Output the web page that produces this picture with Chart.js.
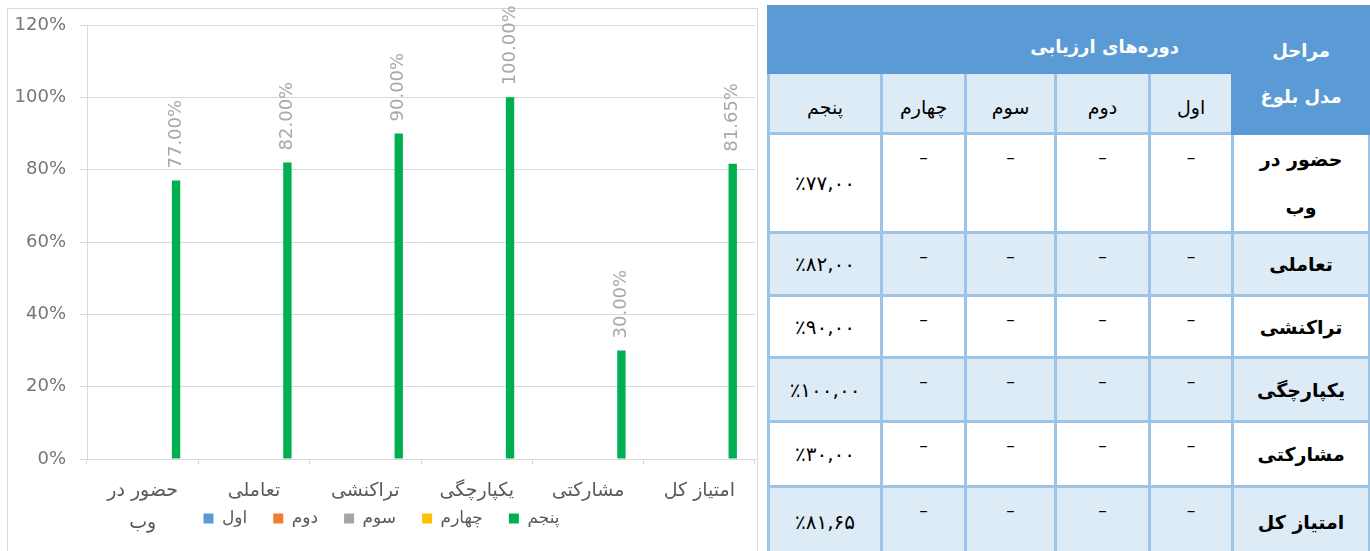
<!DOCTYPE html>
<html>
<head>
<meta charset="utf-8">
<script src="https://cdn.jsdelivr.net/npm/chart.js@4.4.1/dist/chart.umd.min.js"></script>
<style>
html,body{margin:0;padding:0;background:#fff;width:1370px;height:551px;overflow:hidden;}
#frame{position:absolute;left:7px;top:8px;width:751px;height:600px;border:1px solid #d9d9d9;box-sizing:border-box;}
#c{position:absolute;left:8px;top:0;}
#tbl{position:absolute;left:767px;top:5px;width:603px;border-collapse:collapse;table-layout:fixed;direction:rtl;font-family:"DejaVu Sans",sans-serif;}
#tbl td{border:3px solid #9DC3E6;padding:0;text-align:center;vertical-align:middle;color:#000;font-size:19px;}
#tbl td.hb{background:#5B9BD5;border-color:#5B9BD5;color:#fff;font-weight:bold;font-size:18px;}
#tbl td.title{text-align:right;padding-right:52px;padding-top:14px;}
#tbl td.stage{line-height:46px;padding-top:8px;}
#tbl tr.alt td, #tbl td.sub{background:#DDEBF7;}
#tbl td.sub{padding-top:8px;}
#tbl td.lab{font-weight:bold;font-size:19px;line-height:48px;}
#tbl td.dash{vertical-align:top;padding-top:12px;font-size:17px;}
#tbl td.val span{letter-spacing:2px;font-size:20px;}
</style>
</head>
<body>
<div id="frame"></div>
<canvas id="c" width="748" height="600"></canvas>
<table id="tbl"></table>
<script>
// ---- data ----
const categories = ['حضور در وب', 'تعاملی', 'تراکنشی', 'یکپارچگی', 'مشارکتی', 'امتیاز کل'];
const periodNames = ['اول', 'دوم', 'سوم', 'چهارم', 'پنجم'];
const period1 = [null, null, null, null, null, null];
const period2 = [null, null, null, null, null, null];
const period3 = [null, null, null, null, null, null];
const period4 = [null, null, null, null, null, null];
const period5 = [77.00, 82.00, 90.00, 100.00, 30.00, 81.65];
const periodColors = ['#5B9BD5', '#ED7D31', '#A5A5A5', '#FFC000', '#00B050'];
const yTicks = [0, 20, 40, 60, 80, 100, 120];
const tableTitle = 'دوره‌های ارزیابی';
const stageHeader = ['مراحل', 'مدل بلوغ'];

const series = [period1, period2, period3, period4, period5];

// wrap long category labels into lines
function wrapLabel(s) {
  if (s.length > 9 && s.indexOf(' ') > 0) {
    const i = s.lastIndexOf(' ');
    return [s.slice(0, i), s.slice(i + 1)];
  }
  return s;
}

const barLabels = {
  id: 'barLabels',
  afterDatasetsDraw(chart) {
    const ctx = chart.ctx;
    chart.data.datasets.forEach((ds, i) => {
      const meta = chart.getDatasetMeta(i);
      if (meta.hidden) return;
      meta.data.forEach((bar, j) => {
        const v = ds.data[j];
        if (v == null) return;
        ctx.save();
        ctx.translate(bar.x, bar.y - 12);
        ctx.rotate(-Math.PI / 2);
        ctx.font = '18px "DejaVu Sans"';
        ctx.fillStyle = '#a8a8a8';
        ctx.textAlign = 'left';
        ctx.textBaseline = 'middle';
        ctx.fillText(v.toFixed(2) + '%', 0, 0);
        ctx.restore();
      });
    });
  }
};

// the legend overlaps the lower part of the category-label band, as in the source
const legendLift = {
  id: 'legendLift',
  afterLayout(chart) {
    const l = chart.legend;
    if (l) { l.top -= 55; l.bottom -= 55; }
  }
};

new Chart(document.getElementById('c'), {
  type: 'bar',
  data: {
    labels: categories.map(wrapLabel),
    datasets: series.map((d, i) => ({
      label: periodNames[i],
      data: d,
      backgroundColor: periodColors[i],
      borderWidth: 0,
      categoryPercentage: 0.75,
      barPercentage: 0.5
    }))
  },
  options: {
    responsive: false,
    devicePixelRatio: 1,
    animation: false,
    layout: { padding: { top: 25, bottom: 8, left: 0, right: 1 } },
    plugins: {
      tooltip: { enabled: false },
      legend: {
        position: 'bottom',
        labels: {
          boxWidth: 10, boxHeight: 10, padding: 26,
          color: '#595959',
          font: { family: '"DejaVu Sans"', size: 17 }
        }
      }
    },
    scales: {
      x: {
        afterFit(s) { s.height = 80; },
        grid: { display: true, drawOnChartArea: false, drawTicks: true, tickLength: 5, color: '#d9d9d9' },
        border: { display: true, color: '#d9d9d9' },
        ticks: {
          color: '#595959', padding: 11, maxRotation: 0, autoSkip: false,
          font: { family: '"DejaVu Sans"', size: 19, lineHeight: 1.7 }
        }
      },
      y: {
        min: 0, max: 120,
        afterFit(s) { s.width = 79; },
        afterBuildTicks(s) { s.ticks = yTicks.map(v => ({ value: v })); },
        grid: { color: '#d9d9d9', tickLength: 7, drawTicks: true },
        border: { display: true, color: '#d9d9d9' },
        ticks: {
          color: '#767676', padding: 14,
          font: { family: '"DejaVu Sans"', size: 18 },
          callback: v => v + '%'
        }
      }
    }
  },
  plugins: [barLabels, legendLift]
});

// ---- table ----
const faDigits = '۰۱۲۳۴۵۶۷۸۹';
function toFa(s) { return s.replace(/[0-9]/g, d => faDigits[+d]); }
function fmtPct(v) { return '٪' + toFa(v.toFixed(2).replace('.', ',')); }

const colWidths = [137, 83, 94, 90, 84, 113];
const rowHeights = [93, 63, 62, 64, 65, 70];
const tbl = document.getElementById('tbl');
let html = '<colgroup>' + colWidths.map(w => '<col style="width:' + w + 'px">').join('') + '</colgroup>';
html += '<tr style="height:66px"><td class="hb stage" rowspan="2">' + stageHeader.join('<br>') + '</td>' +
        '<td class="hb title" colspan="' + periodNames.length + '">' + tableTitle + '</td></tr>';
html += '<tr style="height:61px">' + periodNames.map(p => '<td class="sub">' + p + '</td>').join('') + '</tr>';
categories.forEach((c, r) => {
  const alt = r % 2 === 1 ? ' class="alt"' : '';
  const label = c === categories[0] ? c.replace(' وب', '<br>وب') : c;
  html += '<tr' + alt + ' style="height:' + rowHeights[r] + 'px"><td class="lab">' + label + '</td>';
  series.forEach((s) => {
    const v = s[r];
    html += v == null ? '<td class="dash">–</td>'
                      : '<td class="val"><span dir="ltr">' + fmtPct(v) + '</span></td>';
  });
  html += '</tr>';
});
tbl.innerHTML = html;
</script>
</body>
</html>
